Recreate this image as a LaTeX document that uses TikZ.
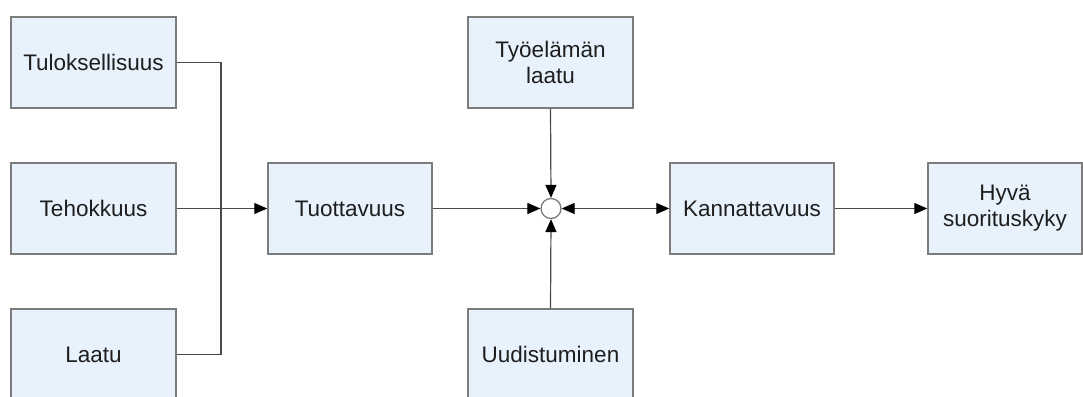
\documentclass[tikz,border=0pt]{standalone}
\usepackage{fontspec}
\setmainfont{Liberation Sans}
\usetikzlibrary{arrows.meta}
\definecolor{boxfill}{HTML}{E8F2FD}
\definecolor{boxline}{HTML}{7C7C7C}
\definecolor{linecol}{HTML}{4A4A4A}
\definecolor{txt}{HTML}{1E1E1E}
\tikzset{
  blk/.style={draw=boxline, line width=1.5pt, fill=boxfill, minimum width=165pt, minimum height=91pt,
    inner sep=0pt, align=center, text=txt, font=\fontsize{22.5}{26}\selectfont},
  conn/.style={draw=linecol, line width=1.2pt},
  arr/.tip={Triangle[length=13pt,width=11pt,color=black]},
  tip/.style={-arr},
  junc/.style={circle, draw=boxline, line width=1.3pt, fill=white, minimum size=20pt, inner sep=0pt}
}
\begin{document}
\begin{tikzpicture}[x=1pt,y=-1pt]
\useasboundingbox (0,0) rectangle (1083,396);
\clip (0,0) rectangle (1083,396);
\fill[white] (0,0) rectangle (1083,396);
\node[blk] (tul) at (93.5,62.5) {Tuloksellisuus};
\node[blk] (teh) at (93.5,208.5) {Tehokkuus};
\node[blk] (laa) at (93.5,354.5) {Laatu};
\node[blk, minimum width=164pt] (tuo) at (350,208.5) {Tuottavuus};
\node[blk] (tyo) at (550.5,62.5) {Työelämän\\laatu};
\node[blk] (uud) at (550.5,354.5) {Uudistuminen};
\node[junc] (c) at (551,208.5) {};
\node[blk, minimum width=164pt] (kan) at (752,208.5) {Kannattavuus};
\node[blk, minimum width=154pt] (hyv) at (1005,208.5) {Hyvä\\suorituskyky};
\coordinate (j1) at (221,62.5);
\coordinate (j3) at (221,354.5);
\draw[conn] (tul.east) -- (j1) -- (j3) -- (laa.east);
\draw[conn,tip] (teh.east) -- (tuo.west);
\draw[conn,tip] (tuo.east) -- (c.west);
\draw[conn,tip] (tyo.south) -- (c.north);
\draw[conn,tip] (uud.north) -- (c.south);
\draw[conn,arr-arr] (c.east) -- (kan.west);
\draw[conn,tip] (kan.east) -- (hyv.west);
\end{tikzpicture}
\end{document}
